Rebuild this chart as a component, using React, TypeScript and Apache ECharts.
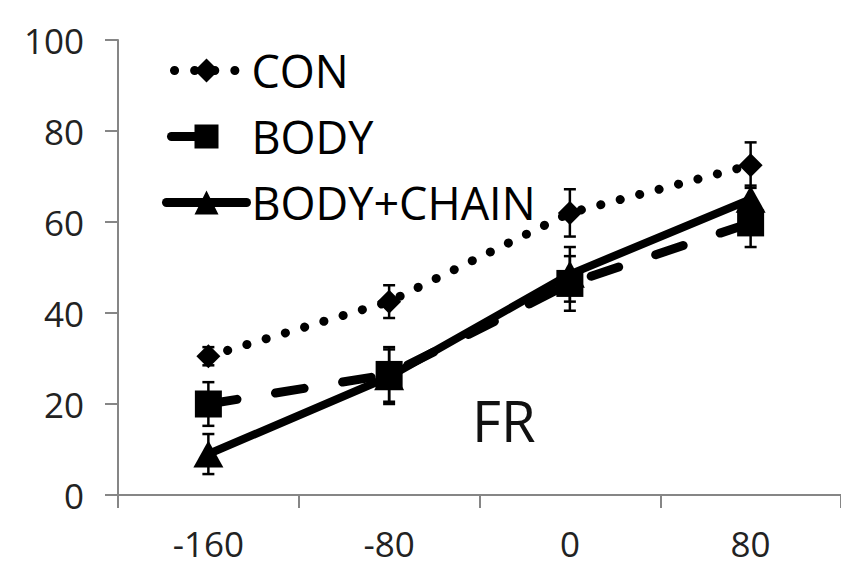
import React, { useEffect, useRef } from "react";
import * as echarts from "echarts";

const categories = ["-160", "-80", "0", "80"];
const seriesNames = ["CON", "BODY", "BODY+CHAIN"];
const conValues = [30.5, 42.5, 62, 72.5];
const conErrors = [2, 3.6, 5.2, 5];
const bodyValues = [20, 26.5, 46.5, 59.8];
const bodyErrors = [4.8, 6, 6, 5.3];
const chainValues = [9, 26, 48.5, 65];
const chainErrors = [4.4, 6, 6, 3];
const yTicks = { min: 0, max: 100, interval: 20 };
const annotation = "FR";

const FONT = "'Open Sans', 'Noto Sans', sans-serif";

function errorData(values: number[], errs: number[]) {
  return values.map((v, i) => [i, v - errs[i], v + errs[i]]);
}

function errorSeries(name: string, values: number[], errs: number[]) {
  return {
    type: "custom",
    name: name + "-err",
    data: errorData(values, errs),
    z: 5,
    silent: true,
    renderItem: (params: any, api: any) => {
      const x = api.value(0);
      const lo = api.coord([x, api.value(1)]);
      const hi = api.coord([x, api.value(2)]);
      const cw = 6;
      const style = { stroke: "#000", lineWidth: 2.5 };
      return {
        type: "group",
        children: [
          { type: "line", shape: { x1: lo[0], y1: lo[1], x2: hi[0], y2: hi[1] }, style },
          { type: "line", shape: { x1: lo[0] - cw, y1: lo[1], x2: lo[0] + cw, y2: lo[1] }, style },
          { type: "line", shape: { x1: hi[0] - cw, y1: hi[1], x2: hi[0] + cw, y2: hi[1] }, style },
        ],
      };
    },
  };
}

export default function App() {
  const ref = useRef<HTMLDivElement>(null);
  useEffect(() => {
    if (!ref.current) return;
    const chart = echarts.init(ref.current, undefined, { renderer: "svg" });
    chart.setOption({
      animation: false,
      backgroundColor: "#fff",
      grid: { left: 118, right: 0, top: 40, bottom: 77 },
      legend: {
        orient: "vertical",
        left: 157,
        top: 43,
        itemWidth: 80,
        itemHeight: 30,
        itemGap: 21,
        data: [
          {
            name: seriesNames[0],
            lineStyle: { width: 9, type: [0.1, 20], cap: "round", dashOffset: -8 },
          },
          {
            name: seriesNames[1],
            lineStyle: { width: 9, type: [34, 80], cap: "round", dashOffset: -5 },
          },
          {
            name: seriesNames[2],
            lineStyle: { width: 9, type: "solid", cap: "round" },
          },
        ],
        textStyle: { fontFamily: FONT, fontSize: 45, color: "#000", lineHeight: 44 },
      },
      xAxis: {
        type: "category",
        data: categories,
        boundaryGap: true,
        axisLine: { lineStyle: { color: "#868686", width: 2 } },
        axisTick: { show: true, length: 13, lineStyle: { color: "#868686", width: 2 } },
        axisLabel: { fontFamily: FONT, fontSize: 35, color: "#222", margin: 31 },
        splitLine: { show: false },
      },
      yAxis: {
        type: "value",
        min: yTicks.min,
        max: yTicks.max,
        interval: yTicks.interval,
        axisLine: { show: true, lineStyle: { color: "#868686", width: 2 } },
        axisTick: { show: true, length: 13, lineStyle: { color: "#868686", width: 2 } },
        axisLabel: { fontFamily: FONT, fontSize: 35, color: "#222", margin: 34 },
        splitLine: { show: false },
      },
      graphic: [
        {
          type: "text",
          left: 472,
          top: 392,
          style: { text: annotation, font: "56px " + FONT, fill: "#111" },
        },
      ],
      series: [
        errorSeries("CON", conValues, conErrors),
        errorSeries("BODY", bodyValues, bodyErrors),
        errorSeries("BODY+CHAIN", chainValues, chainErrors),
        {
          type: "line",
          name: "CON",
          data: conValues,
          symbol: "diamond",
          symbolSize: 24,
          z: 10,
          itemStyle: { color: "#000" },
          lineStyle: { color: "#000", width: 9, type: [0.1, 20], cap: "round" },
        },
        {
          type: "line",
          name: "BODY",
          data: bodyValues,
          symbol: "rect",
          symbolSize: 27,
          z: 10,
          itemStyle: { color: "#000" },
          lineStyle: { color: "#000", width: 9, type: [29, 39], cap: "round" },
        },
        {
          type: "line",
          name: "BODY+CHAIN",
          data: chainValues,
          symbol: "triangle",
          symbolSize: [30, 27],
          z: 10,
          itemStyle: { color: "#000" },
          lineStyle: { color: "#000", width: 8, type: "solid", cap: "round" },
        },
      ],
    });
    return () => chart.dispose();
  }, []);
  return (
    <div
      ref={ref}
      style={{ position: "fixed", left: 0, top: 0, width: 841, height: 572, background: "#fff" }}
    />
  );
}
